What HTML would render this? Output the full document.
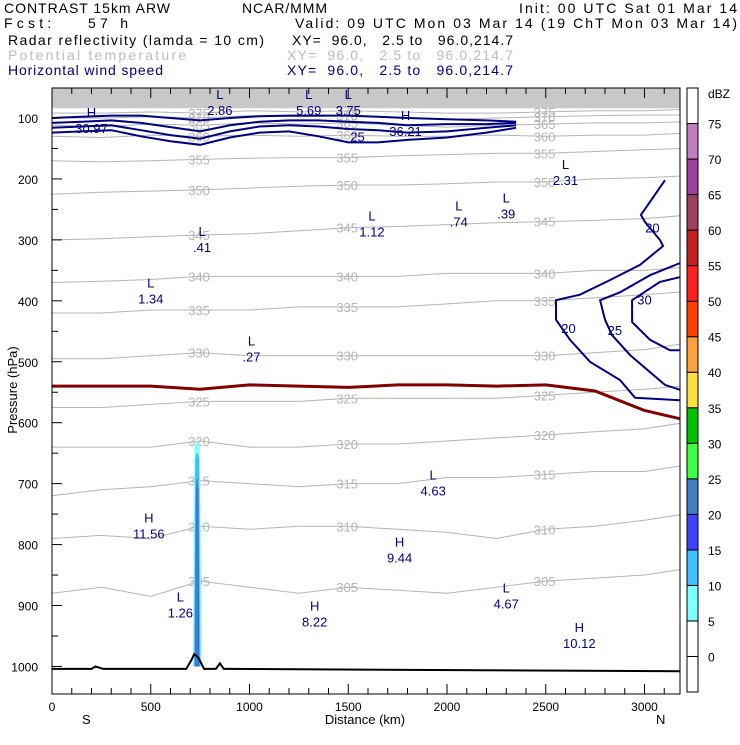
<!DOCTYPE html>
<html><head><meta charset="utf-8"><style>
body{margin:0;background:#fff;width:740px;height:740px;overflow:hidden}
svg text{font-family:"Liberation Sans",sans-serif}
</style></head><body>
<svg id="c" width="740" height="740" viewBox="0 0 740 740" xmlns="http://www.w3.org/2000/svg">
<g font-size="14" fill="#000" lengthAdjust="spacing">
<text x="4" y="13" textLength="166" lengthAdjust="spacing">CONTRAST 15km ARW</text>
<text x="242" y="13" textLength="85" lengthAdjust="spacing">NCAR/MMM</text>
<text x="519" y="13" textLength="218" lengthAdjust="spacing">Init: 00 UTC Sat 01 Mar 14</text>
<text x="4" y="28" textLength="124" lengthAdjust="spacing" xml:space="preserve">Fcst:    57 h</text>
<text x="295" y="28" textLength="442" lengthAdjust="spacing">Valid: 09 UTC Mon 03 Mar 14 (19 ChT Mon 03 Mar 14)</text>
<text x="8" y="45" textLength="256" lengthAdjust="spacing">Radar reflectivity (lamda = 10 cm)</text>
<text x="292" y="45" textLength="221" lengthAdjust="spacing" xml:space="preserve">XY=  96.0,   2.5 to   96.0,214.7</text>
<text x="8" y="60" fill="#bbb" textLength="178" lengthAdjust="spacing">Potential temperature</text>
<text x="287" y="60" fill="#bbb" textLength="226" lengthAdjust="spacing" xml:space="preserve">XY=  96.0,   2.5 to   96.0,214.7</text>
<text x="8" y="75" fill="#000080" textLength="155" lengthAdjust="spacing">Horizontal wind speed</text>
<text x="287" y="75" fill="#000080" textLength="226" lengthAdjust="spacing" xml:space="preserve">XY=  96.0,   2.5 to   96.0,214.7</text>
</g>
<defs><clipPath id="pc"><rect x="52" y="88" width="628" height="606"/></clipPath></defs>
<g id="plot" clip-path="url(#pc)"></g>
<rect x="52" y="88" width="628" height="606" fill="none" stroke="#000" stroke-width="1"/>
<g id="axes"></g>
<g id="cbar"></g>
<text x="365" y="724" font-size="13" text-anchor="middle">Distance (km)</text>
<text x="17" y="390" font-size="13" text-anchor="middle" transform="rotate(-90 17 390)">Pressure (hPa)</text>
<text x="82" y="724" font-size="13">S</text>
<text x="656" y="724" font-size="13">N</text>
</svg>
<script>
const NS="http://www.w3.org/2000/svg";
const xKm=[0,250,500,750,1000,1250,1500,1750,2000,2250,2500,2750,3000,3200];
const thetaLevels=[305,310,315,320,325,330,335,340,345,350,355,360,365,370,375];
const thetaP=[
[880,870,885,860,870,880,870,875,880,870,860,855,850,840],
[790,785,790,770,775,770,770,775,780,790,775,770,760,750],
[720,710,705,695,700,705,700,700,690,690,685,680,680,670],
[640,640,640,630,640,640,635,635,630,625,620,615,610,600],
[575,575,570,565,565,565,560,560,560,560,555,550,545,540],
[495,495,490,485,490,490,490,490,490,490,490,485,480,470],
[420,420,415,415,415,410,410,410,405,400,400,395,390,385],
[370,368,365,360,360,360,360,360,355,355,355,350,350,345],
[300,298,295,292,290,285,280,278,275,272,270,268,265,260],
[225,222,220,218,215,212,210,210,208,205,205,200,198,195],
[170,172,170,168,166,165,165,162,160,158,158,155,152,150],
[130,132,128,130,128,130,128,130,130,128,130,128,128,125],
[112,114,110,112,108,110,108,112,115,112,110,108,108,106],
[100,100,98,100,96,98,96,100,102,100,98,96,95,95],
[92,92,90,92,88,90,88,90,92,92,90,88,88,86]];
const zeroP=[540,540,540,545,538,540,542,538,538,540,538,548,580,595];
const jetKm=[0,150,300,450,600,750,900,1050,1200,1350,1500,1650,1800,2000,2200,2350];
const jetLevels=[10,15,20,25];
const jetP=[[100,98,96,96,100,104,100,97,96,96,96,98,100,102,104,106],
[108,106,104,108,115,122,112,106,104,104,106,108,112,110,110,108],
[116,114,112,120,128,134,122,114,112,114,118,120,124,122,116,112],
[124,122,120,130,138,144,132,124,122,130,140,140,136,132,124,116]];
const rightWindLevels=[20,25,30];
const rightWindKm=[[3104,2982,3003,3078,3094,2977,2825,2673,2552,2552,2623,2724,2876,2952,3180],
[3180,3028,2876,2775,2800,2835,2927,3028,3104,3180],
[3180,3078,2937,2937,3028,3129,3180]];
const rightWindP=[[202,259,271,300,310,341,366,390,399,431,464,500,530,559,563],
[338,358,386,399,431,456,489,517,538,546],
[361,369,399,435,464,481,481]];
const windLabelKm=[2615,2850,3000];
const windLabelP=[445,448,398];
const radarLevels=[5,10,15,20];
const radarTop=[630,650,700,690];
const radarHalfKm=[22,16,10,7];
const radarCenter=735;
const terrainKm=[0,200,220,240,260,680,705,720,740,770,800,830,850,870,900,3200];
const terrainP=[1004,1004,1000,1002,1004,1004,990,980,985,1004,1004,1004,995,1004,1004,1008];
const cbarLabels=["0","5","10","15","20","25","30","35","40","45","50","55","60","65","70","75"];
const cbarColors=["#ffffff","#ffffff","#80ffff","#40c0ff","#4040ff","#4080c0","#40ff40","#00c000","#ffe040","#ffa040","#ff4000","#ff2020","#c02020","#a04060","#a040a0","#c080c0","#ffffff"];
const X=k=>52+k*0.1975, Y=p=>118+(p-100)*0.6094;
const plot=document.getElementById('plot'),axes=document.getElementById('axes'),cb=document.getElementById('cbar');
function mk(t,a,par){const e=document.createElementNS(NS,t);for(const k in a)e.setAttribute(k,a[k]);par.appendChild(e);return e;}
function pth(ks,ps){return ks.map((k,i)=>(i?'L':'M')+X(k).toFixed(1)+','+Y(ps[i]).toFixed(1)).join('');}
let band=mk('rect',{x:52,y:88,width:628,height:Y(84)-88,fill:'#c8c8c8'},plot);

thetaLevels.forEach((lv,i)=>{const e=mk('path',{d:pth(xKm,thetaP[i]),fill:'none',stroke:'#b4b4b4','stroke-width':1},plot);

[3,6,10].forEach(j=>{const t=mk('text',{x:X(xKm[j])-12,y:Y(thetaP[i][j])+5,'font-size':13,fill:'#b4b4b4'},plot);t.textContent=lv;
});});
radarLevels.forEach((lv,i)=>{const h=radarHalfKm[i];const e=mk('path',{d:'M'+X(radarCenter-h)+','+Y(1000)+'L'+X(radarCenter-h*0.6)+','+Y(radarTop[i]+10)+'Q'+X(radarCenter)+','+Y(radarTop[i]-10)+' '+X(radarCenter+h*0.6)+','+Y(radarTop[i]+10)+'L'+X(radarCenter+h)+','+Y(1000)+'Z',fill:cbarColors[i+2]},plot);
});
jetLevels.forEach((lv,i)=>{const e=mk('path',{d:pth(jetKm,jetP[i]),fill:'none',stroke:'#000080','stroke-width':2},plot);
});
const jl=mk('text',{x:X(1510),y:Y(130)+5,'font-size':13,fill:'#000080'},plot);jl.textContent='25';

rightWindLevels.forEach((lv,i)=>{const e=mk('path',{d:pth(rightWindKm[i],rightWindP[i]),fill:'none',stroke:'#000080','stroke-width':2},plot);

const t=mk('text',{x:X(windLabelKm[i]),y:Y(windLabelP[i])+5,'font-size':13,fill:'#000080','text-anchor':'middle'},plot);t.textContent=lv;
});
const wl=mk('text',{x:X(3040),y:Y(280)+5,'font-size':13,fill:'#000080','text-anchor':'middle'},plot);wl.textContent='20';

const z=mk('path',{d:pth(xKm,zeroP),fill:'none',stroke:'#800000','stroke-width':3},plot);

const tr=mk('path',{d:pth(terrainKm,terrainP),fill:'none',stroke:'#000','stroke-width':2},plot);

const hl=[["L","2.86",850,75],["L","5.69",1300,75],["L","3.75",1500,75],["H","30.97",200,105],["H","36.21",1790,110],["L","2.31",2600,190],["L",".39",2300,245],["L",".74",2060,258],["L","1.12",1620,275],["L",".41",760,300],["L","1.34",500,385],["L",".27",1010,480],["L","4.63",1930,700],["H","11.56",490,770],["H","9.44",1760,810],["L","1.26",650,900],["H","8.22",1330,915],["L","4.67",2300,885],["H","10.12",2670,950]];
hl.forEach(([a,v,k,p])=>{const t=mk('text',{x:X(k),y:Y(p)-4,'font-size':13,fill:'#000080','text-anchor':'middle'},plot);t.textContent=a;

const t2=mk('text',{x:X(k),y:Y(p)+12,'font-size':13,fill:'#000080','text-anchor':'middle'},plot);t2.textContent=v;
});
for(let k=0;k<=3100;k+=100){const len=k%500===0?10:6;mk('line',{x1:X(k),x2:X(k),y1:694,y2:694-len,stroke:'#000'},axes);mk('line',{x1:X(k),x2:X(k),y1:88,y2:88+len,stroke:'#000'},axes);
if(k%500===0){const t=mk('text',{x:X(k),y:711,'font-size':12,'text-anchor':'middle'},axes);t.textContent=k;}}
for(let p=100;p<=1000;p+=50){mk('line',{x1:52,x2:p%100===0?62:58,y1:Y(p),y2:Y(p),stroke:'#000'},axes);
if(p%100===0){const t=mk('text',{x:38,y:Y(p)+5,'font-size':12,'text-anchor':'end'},axes);t.textContent=p;}}
const bh=604/17;
cbarColors.forEach((c,i)=>{const y=692-(i+1)*bh;const r=mk('rect',{x:687,y:y,width:11,height:bh,fill:c,stroke:'#000','stroke-width':1},cb);
});
cbarLabels.forEach((l,i)=>{const t=mk('text',{x:708,y:692-(i+1)*bh+5,'font-size':12},cb);t.textContent=l;});
const u=mk('text',{x:708,y:98,'font-size':12},cb);u.textContent='dBZ';
</script>
</body></html>
